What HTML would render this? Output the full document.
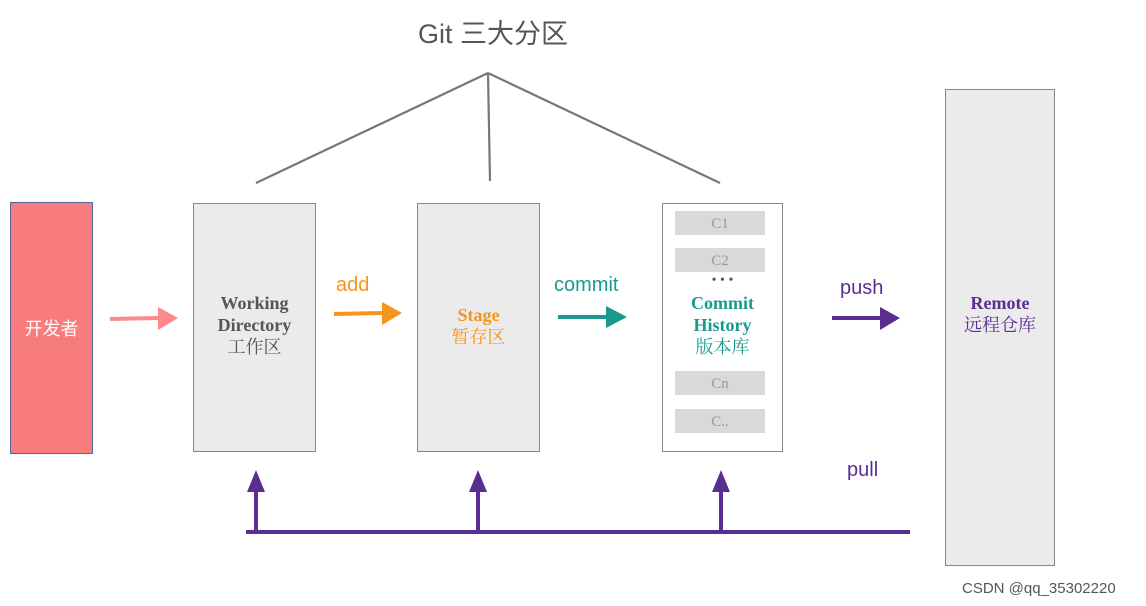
<!DOCTYPE html>
<html><head><meta charset="utf-8"><style>
body{margin:0;width:1146px;height:606px;background:#fff;overflow:hidden;position:relative;font-family:"Liberation Sans","Noto Sans CJK SC",sans-serif}
.a{position:absolute}
.box{position:absolute;background:#ebebeb;border:1.5px solid #888;box-sizing:border-box}
.t{position:absolute;text-align:center;font-family:"Liberation Serif","Noto Serif CJK SC",serif;line-height:22px}
.bar{position:absolute;left:675px;width:90px;height:24px;background:#d9d9d9;color:#999;font-family:"Liberation Serif",serif;font-size:15px;text-align:center;line-height:26px}
</style></head><body>
<div class="a" style="left:0;width:986px;top:12px;text-align:center;font-size:27px;color:#555">Git 三大分区</div>
<svg class="a" style="left:0;top:0" width="1146" height="606">
<g stroke="#777" stroke-width="2.2" fill="none">
<line x1="488" y1="73" x2="256" y2="183"/><line x1="488" y1="73" x2="490" y2="181"/><line x1="488" y1="73" x2="720" y2="183"/>
</g>
<g stroke-width="4">
<line x1="110" y1="319" x2="160" y2="318" stroke="#f88"/><polygon points="158,307 178,318 158,330" fill="#f88"/>
<line x1="334" y1="314" x2="384" y2="313" stroke="#f7941d"/><polygon points="382,302 402,313 382,325" fill="#f7941d"/>
<line x1="558" y1="317" x2="608" y2="317" stroke="#1a9a8e"/><polygon points="606,306 627,317 606,328" fill="#1a9a8e"/>
<line x1="832" y1="318" x2="882" y2="318" stroke="#5a2d91"/><polygon points="880,307 900,318 880,330" fill="#5a2d91"/>
<line x1="246" y1="532" x2="910" y2="532" stroke="#5a2d91"/>
<line x1="256" y1="532" x2="256" y2="490" stroke="#5a2d91"/><polygon points="247,492 256,470 265,492" fill="#5a2d91"/>
<line x1="478" y1="532" x2="478" y2="490" stroke="#5a2d91"/><polygon points="469,492 478,470 487,492" fill="#5a2d91"/>
<line x1="721" y1="532" x2="721" y2="490" stroke="#5a2d91"/><polygon points="712,492 721,470 730,492" fill="#5a2d91"/>
</g></svg>
<div class="a" style="left:10px;top:202px;width:83px;height:252px;background:#f87c7c;border:1px solid #4a6aa0;box-sizing:border-box"></div>
<div class="a" style="left:10px;top:315px;width:83px;text-align:center;color:#fff;font-size:18px">开发者</div>
<div class="box" style="left:193px;top:203px;width:123px;height:249px"></div>
<div class="t" style="left:193px;width:123px;top:292px;color:#555;font-size:18px;font-weight:bold">Working<br>Directory<br><span style="font-weight:normal">工作区</span></div>
<div class="box" style="left:417px;top:203px;width:123px;height:249px"></div>
<div class="t" style="left:417px;width:123px;top:304px;color:#f7941d;font-size:18px;font-weight:bold">Stage<br><span style="font-weight:normal">暂存区</span></div>
<div class="box" style="left:662px;top:203px;width:121px;height:249px;background:#fff"></div>
<div class="bar" style="top:211px">C1</div><div class="bar" style="top:248px">C2</div>
<div class="bar" style="top:371px">Cn</div><div class="bar" style="top:409px">C..</div>
<div class="t" style="left:662px;width:121px;top:274px;color:#555;font-size:14px;line-height:14px">• • •</div>
<div class="t" style="left:662px;width:121px;top:292px;color:#1a9a8e;font-size:18px;font-weight:bold">Commit<br>History<br><span style="font-weight:normal">版本库</span></div>
<div class="box" style="left:945px;top:89px;width:110px;height:477px"></div>
<div class="t" style="left:945px;width:110px;top:292px;color:#5a2d91;font-size:18px;font-weight:bold">Remote<br><span style="font-weight:normal">远程仓库</span></div>
<div class="a" style="left:336px;top:274px;color:#f7941d;font-size:20px">add</div>
<div class="a" style="left:554px;top:274px;color:#1a9a8e;font-size:20px">commit</div>
<div class="a" style="left:840px;top:277px;color:#5a2d91;font-size:20px">push</div>
<div class="a" style="left:847px;top:459px;color:#5a2d91;font-size:20px">pull</div>
<div class="a" style="left:962px;top:580px;color:#555;font-size:15px">CSDN @qq_35302220</div>
</body></html>
